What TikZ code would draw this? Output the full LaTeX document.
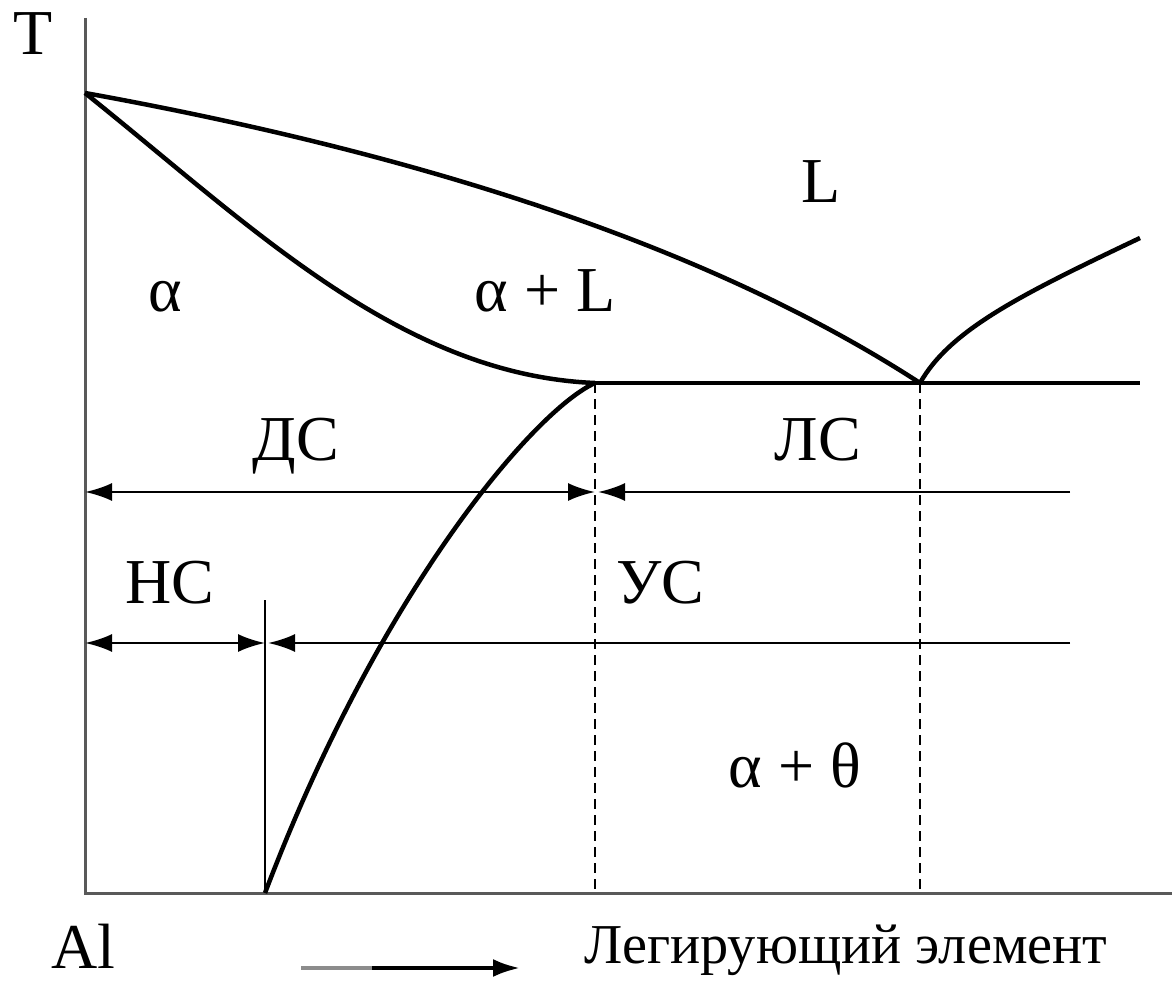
\documentclass[tikz,border=0pt]{standalone}
\usepackage{fontspec}
\setmainfont{Liberation Serif}
\usetikzlibrary{arrows.meta}
\tikzset{
  lbl/.style={anchor=base, inner sep=0pt, font=\fontsize{64}{70}\selectfont},
  curve/.style={line width=4.5pt, black},
  axis/.style={line width=3pt, black!65},
  dim/.style={line width=2.5pt, black},
  tip/.style={-{Latex[length=27pt,width=18pt]}},
  dtip/.style={{Latex[length=27pt,width=18pt]}-{Latex[length=27pt,width=18pt]}},
  guide/.style={line width=1.6pt, dash pattern=on 10pt off 6pt},
}
\begin{document}
\begin{tikzpicture}[x=1pt,y=-1pt]
\useasboundingbox (0,0) rectangle (1172,981);
% key points
\coordinate (top) at (85,18);
\coordinate (O) at (85,893);
\coordinate (xend) at (1172,893);
\coordinate (Tm) at (85,93);
\coordinate (M) at (595,383);
\coordinate (E) at (920,383);
\coordinate (R) at (1140,383);
\coordinate (Lr) at (1140,238);
\coordinate (S0) at (265,893);
\coordinate (S0top) at (265,600);
\coordinate (Mb) at (595,893);
\coordinate (Eb) at (920,893);
\coordinate (a1) at (85,492);
\coordinate (a2) at (595,492);
\coordinate (a3) at (598,492);
\coordinate (a4) at (1070,492);
\coordinate (b1) at (85,643);
\coordinate (b2) at (265,643);
\coordinate (b3) at (268,643);
\coordinate (b4) at (1070,643);
\coordinate (c1) at (301,968);
\coordinate (c2) at (372,968);
\coordinate (c3) at (520,968);
% axes
\draw[axis] (top) -- (O) -- (xend);
% liquidus
\draw[curve] (Tm) .. controls (400,150) and (700,240) .. (E);
\draw[curve] (E) .. controls (950,330) and (1020,295) .. (Lr);
% solidus
\draw[curve] (Tm) .. controls (250,225) and (400,375) .. (M);
% eutectic line
\draw[curve] (M) -- (R);
% solvus
\draw[curve] (M) .. controls (535,410) and (380,590) .. (S0);
% guides
\draw[guide] (M) -- (Mb);
\draw[guide] (E) -- (Eb);
\draw[line width=2pt] (S0top) -- (S0);
% dimension arrows
\draw[dim, dtip] (a1) -- (a2);
\draw[dim, tip] (a4) -- (a3);
\draw[dim, dtip] (b1) -- (b2);
\draw[dim, tip] (b4) -- (b3);
% bottom arrow
\draw[line width=4pt, black!45] (c1) -- (c2);
\draw[line width=4pt, tip] (c2) -- (c3);
% labels
\node[lbl] (T) at (33,55) {T};
\node[lbl] (Al) at (83,968) {Al};
\node[lbl] (Lq) at (821,203) {L};
\node[lbl] (alpha) at (165,312) {α};
\node[lbl] (aL) at (545,312) {α + L};
\node[lbl] (DS) at (296,460) {ДС};
\node[lbl] (LS) at (818,460) {ЛС};
\node[lbl] (NS) at (170,603) {НС};
\node[lbl] (US) at (660,603) {УС};
\node[lbl] (at) at (795,787) {α + θ};
\node[anchor=base, inner sep=0pt] (elem) at (846,963) {\resizebox{523pt}{!}{\fontsize{56}{60}\selectfont Легирующий элемент}};
\end{tikzpicture}
\end{document}
